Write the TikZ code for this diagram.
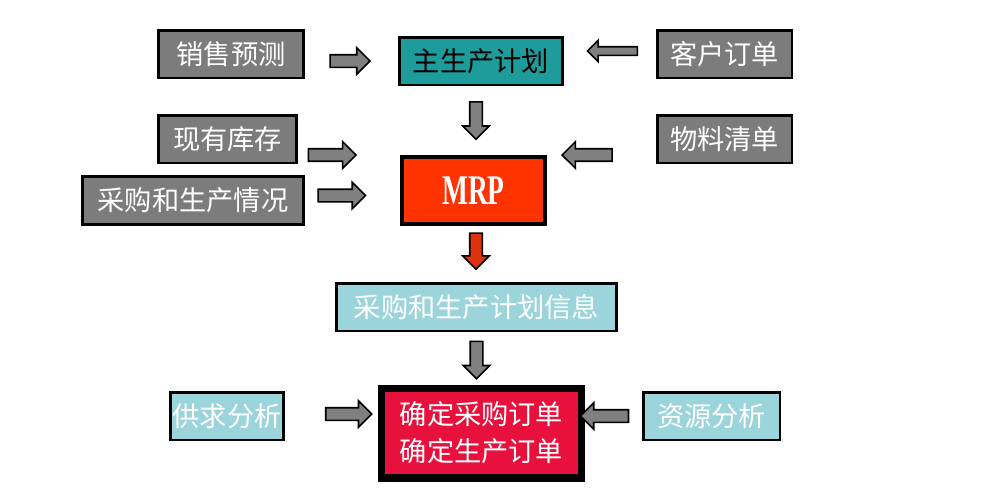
\documentclass[tikz,border=0pt]{standalone}
\usepackage{fontspec}
\setmainfont{Liberation Serif}
\newfontfamily\cjk{Noto Sans CJK SC}
\usetikzlibrary{calc,shapes.arrows}
\definecolor{boxgray}{RGB}{124,124,124}
\definecolor{mpsteal}{RGB}{30,156,156}
\definecolor{mrpred}{RGB}{255,51,0}
\definecolor{infoblue}{RGB}{156,212,220}
\definecolor{ordercrimson}{RGB}{232,16,60}
\definecolor{arrgray}{RGB}{128,128,128}
\definecolor{arrred}{RGB}{220,50,16}
\tikzset{
  cnbox/.style={draw=black,line width=1.7pt,minimum height=0.96cm,
    inner sep=0pt,font=\cjk\fontsize{15.5}{19}\selectfont},
  graybox/.style={cnbox,fill=boxgray,text=white},
  tealbox/.style={cnbox,fill=mpsteal,text=black},
  bluebox/.style={cnbox,fill=infoblue,text=white},
  blockarr/.style={single arrow,draw=black,line width=0.9pt,fill=arrgray,
    minimum height=0.9cm,inner sep=0.11cm,single arrow head extend=0.14cm,
    sloped,allow upside down}
}
\begin{document}
\begin{tikzpicture}[x=0.02cm,y=-0.02cm]
  \useasboundingbox (0,0) rectangle (981,494);
  % input boxes
  \node[graybox,minimum width=2.92cm] (sales) at (231,54) {销售预测};
  \node[tealbox,minimum width=3.28cm] (mps) at (481,61) {主生产计划};
  \node[graybox,minimum width=2.70cm] (cust) at (724.5,54) {客户订单};
  \node[graybox,minimum width=2.78cm] (inv) at (227.5,139) {现有库存};
  \node[graybox,minimum width=4.44cm] (purch) at (193,200.5) {采购和生产情况};
  \node[graybox,minimum width=2.70cm] (bom) at (724.5,139) {物料清单};
  \node[draw=black,line width=2pt,fill=mrpred,text=white,minimum width=2.86cm,
        minimum height=1.34cm,font=\fontsize{24}{28}\selectfont] (mrp) at (473.5,190.5)
    {\scalebox{0.65}[1]{\textbf{MRP}}};
  % output
  \node[bluebox,minimum width=5.62cm] (info) at (476.5,307) {采购和生产计划信息};
  \node[draw=black,line width=4pt,fill=ordercrimson,text=white,minimum width=4.0cm,
        minimum height=1.8cm,align=center,font=\cjk\fontsize{15.5}{21}\selectfont]
    (orders) at (481.5,433) {确定采购订单\\确定生产订单};
  \node[bluebox,minimum width=2.28cm] (supply) at (227,416) {供求分析};
  \node[bluebox,minimum width=2.74cm] (res) at (711.5,416) {资源分析};
  % block arrows
  \path (sales.east |- mps.west) -- node[blockarr,pos=0.45,minimum height=0.8cm] {} (mps.west);
  \path ([yshift=0.06cm]cust.west) -- node[blockarr,pos=0.45,minimum height=1.0cm,
    inner sep=0.07cm,single arrow head extend=0.13cm] {} ([yshift=0.06cm]cust.west -| mps.east);
  \path ([xshift=-0.1cm]mps.south) -- node[blockarr,pos=0.45,minimum height=0.75cm] {}
    ([xshift=-0.1cm]mps.south |- mrp.north);
  \path ([yshift=-0.32cm]inv.east) -- node[blockarr,pos=0.3,minimum height=0.95cm] {}
    ([yshift=-0.32cm]inv.east -| mrp.west);
  \path ([yshift=0.1cm]purch.east) -- node[blockarr,pos=0.35,minimum height=0.95cm] {}
    ([yshift=0.1cm]purch.east -| mrp.west);
  \path ([yshift=-0.32cm]bom.west) -- node[blockarr,pos=0.6,minimum height=1.0cm] {}
    ([yshift=-0.32cm]bom.west -| mrp.east);
  \path ([xshift=0.05cm]mrp.south) -- node[blockarr,fill=arrred,pos=0.4,minimum height=0.72cm] {}
    ([xshift=0.05cm]mrp.south |- info.north);
  \path (info.south) -- node[blockarr,pos=0.47,minimum height=0.75cm] {} (info.south |- orders.north);
  \path ([yshift=0.04cm]supply.east) -- node[blockarr,pos=0.65,minimum height=0.92cm] {}
    ([yshift=0.04cm]supply.east -| orders.west);
  \path (res.west) -- node[blockarr,pos=0.6,minimum height=0.96cm] {} (res.west -| orders.east);
\end{tikzpicture}
\end{document}
